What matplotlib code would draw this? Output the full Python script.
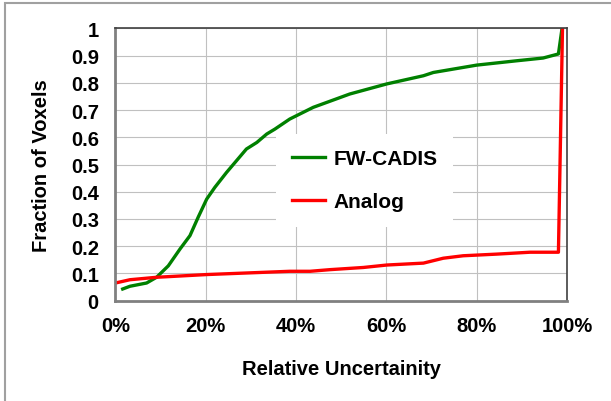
import matplotlib.pyplot as plt
from matplotlib.patches import Rectangle

# relative uncertainty (%) vs fraction of voxels
fw_x = [1.6, 3.2, 6.9, 9.1, 11.7, 14.3, 16.5, 18.3, 20.2, 22.0, 24.6, 26.8, 29.0,
        31.3, 33.5, 35.3, 38.6, 43.8, 51.9, 60.1, 68.2, 70.4, 80.0, 88.9, 94.7,
        98.1, 98.9]
fw_y = [0.043, 0.053, 0.065, 0.086, 0.128, 0.19, 0.239, 0.306, 0.373, 0.416,
        0.471, 0.514, 0.557, 0.581, 0.612, 0.630, 0.667, 0.710, 0.759, 0.796,
        0.826, 0.838, 0.865, 0.881, 0.891, 0.906, 1.0]

an_x = [0.0, 3.2, 9.1, 20.2, 38.6, 43.1, 47.5, 54.9, 60.1, 68.2, 72.6, 77.0,
        84.4, 91.8, 98.1, 99.0]
an_y = [0.065, 0.077, 0.086, 0.096, 0.108, 0.108, 0.114, 0.122, 0.131, 0.138,
        0.156, 0.165, 0.171, 0.178, 0.178, 1.0]

yticks = [0, 0.1, 0.2, 0.3, 0.4, 0.5, 0.6, 0.7, 0.8, 0.9, 1]
ylabels = ['0', '0.1', '0.2', '0.3', '0.4', '0.5', '0.6', '0.7', '0.8', '0.9', '1']
xticks = [0, 20, 40, 60, 80, 100]
xlabels = ['0%', '20%', '40%', '60%', '80%', '100%']

plt.rcParams['font.family'] = ['Liberation Sans', 'DejaVu Sans']
plt.rcParams['font.weight'] = 'bold'

fig = plt.figure(figsize=(6.11, 4.02), dpi=100)
ax = fig.add_axes([0.189, 0.2495, 0.739, 0.6775])

fig.patches.append(Rectangle((5 / 611, -0.1), 1.2, 1.1 - 4 / 402,
                             transform=fig.transFigure, fill=False,
                             edgecolor='#a0a0a0', lw=1.5))

ax.plot(fw_x, fw_y, color='#008000', lw=2.4, label='FW-CADIS')
ax.plot(an_x, an_y, color='#ff0000', lw=2.4, label='Analog')

ax.set_xlim(0, 100)
ax.set_ylim(0, 1)
ax.set_xticks(xticks)
ax.set_xticklabels(xlabels)
ax.set_yticks(yticks)
ax.set_yticklabels(ylabels)
ax.tick_params(length=0, labelsize=14.5)
ax.tick_params(axis='x', pad=11)
ax.tick_params(axis='y', pad=12)
ax.grid(True, color='#c0c0c0', lw=0.8)
ax.set_axisbelow(True)

for s in ['left', 'bottom']:
    ax.spines[s].set_color('#808080')
    ax.spines[s].set_linewidth(2)
for s in ['top', 'right']:
    ax.spines[s].set_color('#404040')
    ax.spines[s].set_linewidth(1.2)

ax.set_xlabel('Relative Uncertainity', fontsize=14.5, fontweight='bold', labelpad=17)
ax.set_ylabel('Fraction of Voxels', fontsize=14.5, fontweight='bold', labelpad=14)

leg = ax.legend(loc='center', bbox_to_anchor=(0.552, 0.442), frameon=True,
                fancybox=False, edgecolor='none', framealpha=1,
                fontsize=15, handlelength=1.6, handletextpad=0.4,
                labelspacing=1.15, borderpad=0.75)
leg.get_frame().set_facecolor('white')

fig.savefig('out.png', dpi=100)
